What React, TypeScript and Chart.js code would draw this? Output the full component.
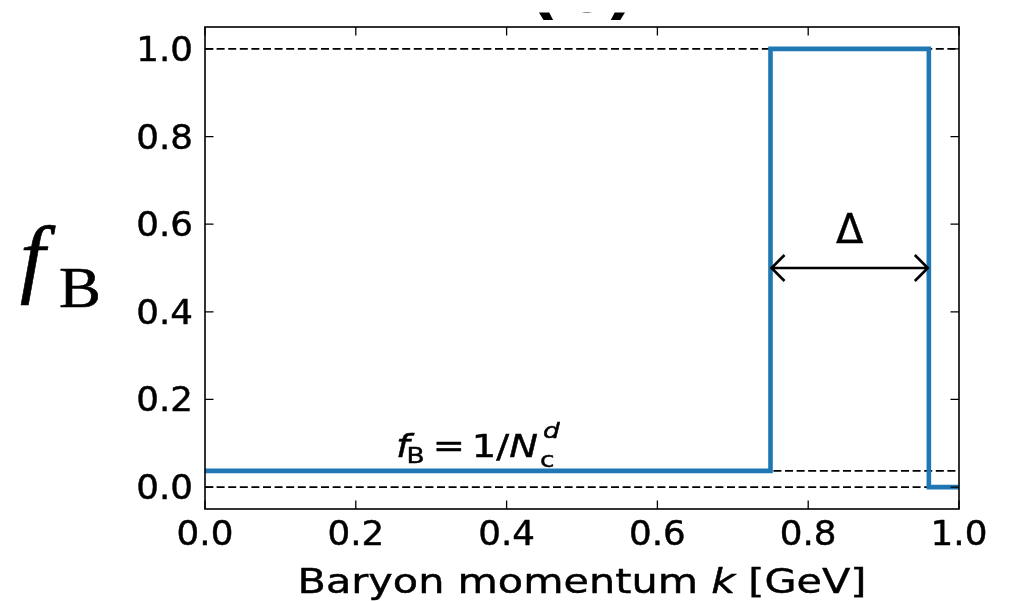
import React, { useEffect, useRef } from "react";
import { Chart, registerables } from "chart.js";

Chart.register(...registerables);

// ---- data ----
const stepK = [0.0, 0.75, 0.75, 0.96, 0.96, 1.0];
const stepF = [0.037, 0.037, 1.0, 1.0, 0.0, 0.0];
const refLevels = [1.0, 0.0, 0.037];
const xTicks = [0.0, 0.2, 0.4, 0.6, 0.8, 1.0];
const xTickLabels = ["0.0", "0.2", "0.4", "0.6", "0.8", "1.0"];
const yTicks = [0.0, 0.2, 0.4, 0.6, 0.8, 1.0];
const yTickLabels = ["0.0", "0.2", "0.4", "0.6", "0.8", "1.0"];
const deltaRange = [0.75, 0.96];
const deltaArrowY = 0.5;
const deltaLabelY = 0.59;
const xTitleParts = ["Baryon momentum ", "k", " [GeV]"];
const yTitleParts = ["f", "B"];
const panelTitle = "(b)";
const annotX = 0.256;
const annotY = 0.068;

const FONT = "'DejaVu Sans', sans-serif";
const SERIF = "'Liberation Serif', 'DejaVu Serif', serif";

function drawStretched(ctx: CanvasRenderingContext2D, text: string, x: number, y: number, font: string, align: "left" | "center" | "right", sx: number, weight = 0.45) {
  ctx.save();
  ctx.font = font;
  const w = ctx.measureText(text).width * sx;
  let x0 = x;
  if (align === "center") x0 = x - w / 2;
  else if (align === "right") x0 = x - w;
  ctx.translate(x0, y);
  ctx.scale(sx, 1);
  ctx.textAlign = "left";
  ctx.textBaseline = "alphabetic";
  ctx.fillText(text, 0, 0);
  if (weight > 0) {
    ctx.lineWidth = weight;
    ctx.lineJoin = "round";
    ctx.strokeText(text, 0, 0);
  }
  ctx.restore();
  return w;
}

function textW(ctx: CanvasRenderingContext2D, text: string, font: string, sx: number) {
  ctx.save();
  ctx.font = font;
  const w = ctx.measureText(text).width * sx;
  ctx.restore();
  return w;
}

const decorPlugin = {
  id: "decor",
  afterDraw(chart: any) {
    const ctx: CanvasRenderingContext2D = chart.ctx;
    const xs = chart.scales.x;
    const ys = chart.scales.y;
    const { left, right, top, bottom } = chart.chartArea;
    ctx.save();
    ctx.fillStyle = "#000";
    ctx.strokeStyle = "#000";

    // frame
    ctx.lineWidth = 1.6;
    ctx.strokeRect(left, top, right - left, bottom - top);

    // inward ticks on all four sides
    ctx.lineWidth = 1.3;
    const tl = 8.5;
    ctx.beginPath();
    xTicks.forEach((v) => {
      const px = xs.getPixelForValue(v);
      ctx.moveTo(px, bottom);
      ctx.lineTo(px, bottom - tl);
      ctx.moveTo(px, top);
      ctx.lineTo(px, top + tl);
    });
    yTicks.forEach((v) => {
      const py = ys.getPixelForValue(v);
      ctx.moveTo(left, py);
      ctx.lineTo(left + tl, py);
      ctx.moveTo(right, py);
      ctx.lineTo(right - tl, py);
    });
    ctx.stroke();

    // tick labels
    const tickFont = `34px ${FONT}`;
    const TSX = 1.05;
    xTicks.forEach((v, i) => {
      drawStretched(ctx, xTickLabels[i], xs.getPixelForValue(v), bottom + 36, tickFont, "center", TSX);
    });
    yTicks.forEach((v, i) => {
      drawStretched(ctx, yTickLabels[i], left - 12, ys.getPixelForValue(v) + 12, tickFont, "right", TSX);
    });

    // x axis title with italic k
    const XSX = 1.2;
    const tf = `34.5px ${FONT}`;
    const tfi = `italic 34.5px ${FONT}`;
    const w0 = textW(ctx, xTitleParts[0], tf, XSX);
    const w1 = textW(ctx, xTitleParts[1], tfi, XSX);
    const w2 = textW(ctx, xTitleParts[2], tf, XSX);
    let cx = (left + right) / 2 - (w0 + w1 + w2) / 2;
    const tb = 592.5;
    drawStretched(ctx, xTitleParts[0], cx, tb, tf, "left", XSX);
    cx += w0;
    drawStretched(ctx, xTitleParts[1], cx, tb, tfi, "left", XSX);
    cx += w1;
    drawStretched(ctx, xTitleParts[2], cx, tb, tf, "left", XSX);

    // y axis label f_B (serif)
    const cy = (top + bottom) / 2;
    drawStretched(ctx, yTitleParts[0], 20, cy + 18, `italic 86px ${SERIF}`, "left", 1.05, 0.6);
    drawStretched(ctx, yTitleParts[1], 59, cy + 39, `57px ${SERIF}`, "left", 1.1, 0.6);

    // annotation f_B = 1/N_c^d
    const ASX = 1.2;
    let ax = xs.getPixelForValue(annotX) - 2;
    const ab = ys.getPixelForValue(annotY);
    const mf = `32px ${FONT}`;
    const mfi = `italic 32px ${FONT}`;
    const sf = `22px ${FONT}`;
    const sfi = `italic 22px ${FONT}`;
    ax += drawStretched(ctx, "f", ax, ab, mfi, "left", ASX);
    ax -= 3;
    ax += drawStretched(ctx, "B", ax, ab + 6, sf, "left", ASX);
    ax += 8;
    ax += drawStretched(ctx, "=", ax, ab, mf, "left", ASX);
    ax += 7;
    ax += drawStretched(ctx, "1/", ax, ab, mf, "left", ASX);
    ax += drawStretched(ctx, "N", ax, ab, mfi, "left", ASX);
    drawStretched(ctx, "c", ax + 2, ab + 10, sf, "left", ASX);
    drawStretched(ctx, "d", ax + 5, ab - 19, sfi, "left", ASX);

    // Delta double arrow
    const x1 = xs.getPixelForValue(deltaRange[0]);
    const x2 = xs.getPixelForValue(deltaRange[1]);
    const yA = ys.getPixelForValue(deltaArrowY);
    ctx.lineWidth = 2.6;
    ctx.lineJoin = "miter";
    ctx.lineCap = "butt";
    ctx.beginPath();
    ctx.moveTo(x1 + 1, yA);
    ctx.lineTo(x2 - 1, yA);
    const hl = 14, hw = 13;
    ctx.moveTo(x1 + hl, yA - hw);
    ctx.lineTo(x1 + 1, yA);
    ctx.lineTo(x1 + hl, yA + hw);
    ctx.moveTo(x2 - hl, yA - hw);
    ctx.lineTo(x2 - 1, yA);
    ctx.lineTo(x2 - hl, yA + hw);
    ctx.stroke();
    drawStretched(ctx, "\u0394", (x1 + x2) / 2, ys.getPixelForValue(deltaLabelY) + 14, `40px ${FONT}`, "center", 1.0);

    // panel title (cut off at top)
    ctx.save();
    ctx.beginPath();
    ctx.rect(0, 12.5, chart.width, 20);
    ctx.clip();
    drawStretched(ctx, panelTitle, (left + right) / 2, 12, `bold 60px ${FONT}`, "center", 1.1, 0);
    ctx.restore();

    ctx.restore();
  },
};

export default function App() {
  const ref = useRef<HTMLCanvasElement | null>(null);
  useEffect(() => {
    document.body.style.margin = "0";
    const canvas = ref.current!;
    const stepData = stepK.map((k, i) => ({ x: k, y: stepF[i] }));
    const refSets = refLevels.map((lv) => ({
      data: [
        { x: 0, y: lv },
        { x: 1, y: lv },
      ],
      borderColor: "#000",
      borderWidth: 1.6,
      borderDash: [8, 3.6],
      pointRadius: 0,
      order: 2,
    }));
    const chart = new Chart(canvas, {
      type: "line",
      data: {
        datasets: [
          {
            data: stepData,
            borderColor: "#1f77b4",
            borderWidth: 4.6,
            borderJoinStyle: "miter",
            pointRadius: 0,
            tension: 0,
            order: 1,
          } as any,
          ...refSets,
        ],
      },
      options: {
        animation: false,
        responsive: false,
        devicePixelRatio: 1,
        layout: { padding: { left: 205, right: 53, top: 27, bottom: 92 } },
        plugins: { legend: { display: false }, tooltip: { enabled: false }, title: { display: false } },
        scales: {
          x: { type: "linear", min: 0, max: 1, display: false },
          y: { type: "linear", min: -0.05, max: 1.05, display: false },
        },
        events: [],
      },
      plugins: [decorPlugin],
    });
    return () => chart.destroy();
  }, []);
  return (
    <div style={{ position: "absolute", left: 0, top: 0, width: 1012, height: 601, background: "#fff" }}>
      <canvas ref={ref} width={1012} height={601} style={{ width: 1012, height: 601 }} />
    </div>
  );
}
